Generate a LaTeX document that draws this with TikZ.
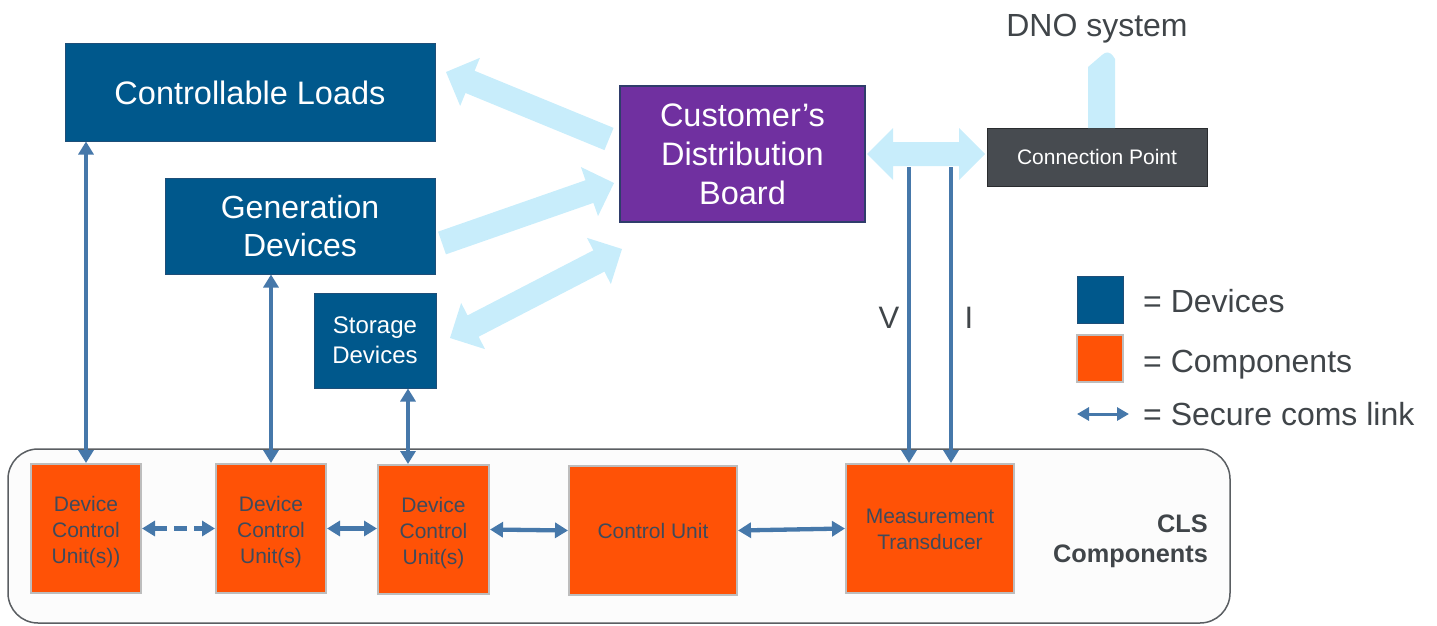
\documentclass[tikz,border=0pt]{standalone}
\usepackage{fontspec}
\setmainfont{Liberation Sans}
\usetikzlibrary{arrows.meta,calc}
\definecolor{devblue}{HTML}{00588C}
\definecolor{devedge}{HTML}{1E4E78}
\definecolor{purp}{HTML}{7030A0}
\definecolor{purpedge}{HTML}{2F3D6B}
\definecolor{cpgray}{HTML}{474B50}
\definecolor{cpedge}{HTML}{2A2C2F}
\definecolor{flow}{HTML}{C8EDFB}
\definecolor{linkblue}{HTML}{4678AA}
\definecolor{comp}{HTML}{FF5206}
\definecolor{compedge}{HTML}{BDBDBD}
\definecolor{comptext}{HTML}{3F4A5B}
\definecolor{txtgray}{HTML}{404549}
\definecolor{panel}{HTML}{FCFCFC}
\definecolor{paneledge}{HTML}{5A5E62}
\newcommand\fs[2]{\fontsize{#1}{#2}\selectfont}
\newcommand\stk[2]{\raisebox{#1}[\height][\depth]{\begin{tabular}{@{}c@{}}#2\end{tabular}}}
\newcommand\flowsingle[2]{%
  \coordinate (fc) at ($(#2)!26pt!(#1)$);
  \fill[flow] ($(#1)!12pt!90:(#2)$) -- ($(fc)!12pt!90:(#2)$) -- ($(fc)!26pt!90:(#2)$) -- (#2)
     -- ($(fc)!26pt!-90:(#2)$) -- ($(fc)!12pt!-90:(#2)$) -- ($(#1)!12pt!-90:(#2)$) -- cycle;}
\newcommand\flowdouble[2]{%
  \coordinate (fa) at ($(#1)!26pt!(#2)$);
  \coordinate (fb) at ($(#2)!26pt!(#1)$);
  \fill[flow] (#1) -- ($(fa)!26pt!90:(#2)$) -- ($(fa)!12pt!90:(#2)$) -- ($(fb)!12pt!90:(#2)$)
     -- ($(fb)!26pt!90:(#2)$) -- (#2) -- ($(fb)!26pt!-90:(#2)$) -- ($(fb)!12pt!-90:(#2)$)
     -- ($(fa)!12pt!-90:(#2)$) -- ($(fa)!26pt!-90:(#2)$) -- cycle;}
\tikzset{
  dev/.style={fill=devblue, draw=devedge, line width=1pt, text=white, inner sep=0pt, align=center},
  compbox/.style={fill=comp, draw=compedge, line width=2pt, text=comptext, inner sep=0pt, align=center, font=\fs{21}{26}},
  seclink/.style={draw=linkblue, line width=4.3pt, {Triangle[width=15pt,length=13pt]}-{Triangle[width=15pt,length=13pt]}},
  oneway/.style={draw=linkblue, line width=4.3pt, -{Triangle[width=15pt,length=13pt]}},
  graytext/.style={text=txtgray, inner sep=0pt},
}
\begin{document}
\begin{tikzpicture}[x=1pt,y=-1pt]
\useasboundingbox (0,0) rectangle (1437,626);
% CLS panel
\node[draw=paneledge, fill=panel, line width=1.5pt, rounded corners=30pt, minimum width=1222pt, minimum height=174pt, inner sep=0pt] (cls) at (619,536) {};
% device boxes
\node[dev, minimum width=370pt, minimum height=97pt, font=\fs{32.5}{39}] (cl) at (250,92.5) {Controllable Loads};
\node[dev, minimum width=270pt, minimum height=96pt, font=\fs{32}{38}] (gd) at (300,226) {Generation\\Devices};
\node[dev, minimum width=122pt, minimum height=95pt, font=\fs{24}{30}] (sd) at (375,340.5) {\stk{-2pt}{Storage\\Devices}};
\node[fill=purp, draw=purpedge, line width=1.5pt, text=white, inner sep=0pt, align=center, minimum width=245pt, minimum height=136pt, font=\fs{32.5}{39}] (cdb) at (742.5,154) {Customer’s\\Distribution\\Board};
\node[fill=cpgray, draw=cpedge, line width=1pt, text=white, inner sep=0pt, minimum width=220pt, minimum height=58pt, font=\fs{21}{25}] (cp) at (1097,157) {Connection Point};
\node[graytext, font=\fs{32}{38}, anchor=base] (dno) at (1097,37) {DNO system};
% flow arrows
\coordinate (f1a) at (609,139); \coordinate (f1b) at (446,72);
\coordinate (f2a) at (442,243); \coordinate (f2b) at (614,183);
\coordinate (f3a) at (450,338); \coordinate (f3b) at (622,249);
\coordinate (f4a) at (867,154); \coordinate (f4b) at (985,154);
\flowsingle{f1a}{f1b}
\flowsingle{f2a}{f2b}
\flowdouble{f3a}{f3b}
\flowdouble{f4a}{f4b}
\fill[flow] (1088,128) -- (1088,67) -- (1102,55) .. controls (1106,51) and (1110,52) .. (1113,56) -- (1115,59) -- (1115,128) -- cycle;
% components
\node[compbox, minimum width=110pt, minimum height=129pt] (dcu1) at (86,528.5) {\stk{-4pt}{Device\\Control\\Unit(s))}};
\node[compbox, minimum width=110pt, minimum height=129pt] (dcu2) at (271,528.5) {\stk{-4pt}{Device\\Control\\Unit(s)}};
\node[compbox, minimum width=111pt, minimum height=129pt] (dcu3) at (433.5,529.5) {\stk{-4pt}{Device\\Control\\Unit(s)}};
\node[compbox, minimum width=168pt, minimum height=129pt] (cu) at (653,530.5) {Control Unit};
\node[compbox, minimum width=168pt, minimum height=129pt] (mt) at (930,528.5) {\stk{-3pt}{Measurement\\Transducer}};
\node[graytext, align=right, anchor=east, font=\bfseries\fs{25.3}{30}] (clslabel) at (1208,541) {CLS\\Components};
% secure links
\draw[seclink] (dcu1.north |- cl.south) -- (dcu1.north);
\draw[seclink] (dcu2.north |- gd.south) -- (dcu2.north);
\coordinate (s3) at ([xshift=33pt]sd.south);
\draw[seclink] (s3) -- (s3 |- dcu3.north);
\coordinate (vtop) at ([xshift=-21pt]mt.north |- 0,167);
\coordinate (itop) at ([xshift=21pt]mt.north |- 0,167);
\draw[oneway] (vtop) -- (vtop |- mt.north);
\draw[oneway] (itop) -- (itop |- mt.north);
\node[graytext, font=\fs{31}{36}, anchor=base] (vlab) at (889,328) {V};
\node[graytext, font=\fs{31}{36}, anchor=base] (ilab) at (969,328) {I};
\draw[seclink, dash pattern=on 13pt off 7pt] (dcu1.east) -- (dcu2.west);
\draw[seclink] (dcu2.east) -- (dcu2.east -| dcu3.west);
\draw[seclink] (dcu3.east) -- (cu.west);
\draw[seclink] (cu.east) -- (mt.west);
% legend
\node[fill=devblue, draw=devedge, line width=1pt, minimum width=46pt, minimum height=47pt, inner sep=0pt] (legdev) at (1100,299.5) {};
\node[fill=comp, draw=compedge, line width=2pt, minimum width=46pt, minimum height=47pt, inner sep=0pt] (legcomp) at (1100,358.5) {};
\coordinate (lega) at (1077,414); \coordinate (legb) at (1129,414);
\draw[draw=linkblue, line width=3pt, {Triangle[width=13pt,length=12pt]}-{Triangle[width=13pt,length=12pt]}] (lega) -- (legb);
\node[graytext, font=\fs{32}{38}, anchor=base west] (t1) at (1143,312) {= Devices};
\node[graytext, font=\fs{32}{38}, anchor=base west] (t2) at (1143,372) {= Components};
\node[graytext, font=\fs{32}{38}, anchor=base west] (t3) at (1143,425) {= Secure coms link};
\end{tikzpicture}
\end{document}
